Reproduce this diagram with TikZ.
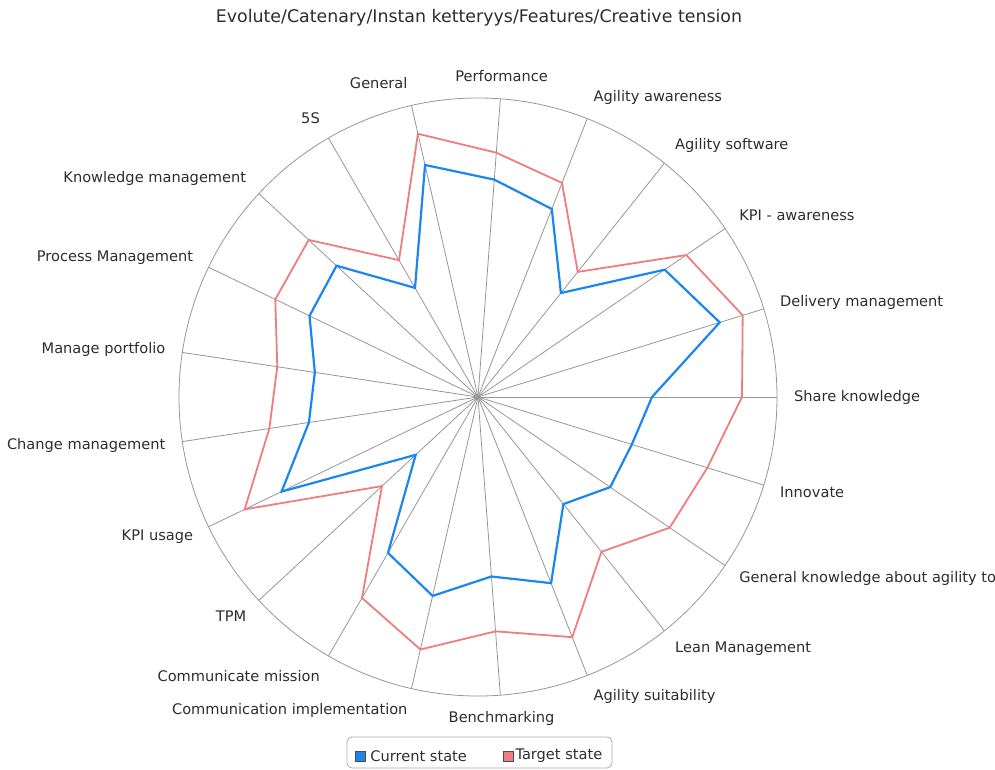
\documentclass[tikz,border=0pt]{standalone}
\usepackage{fontspec}
\setmainfont{DejaVu Sans}
\usetikzlibrary{positioning}
\definecolor{curblue}{RGB}{28,134,238}
\definecolor{tgtred}{RGB}{240,125,125}
\definecolor{gridgray}{RGB}{150,150,150}
\definecolor{txtgray}{RGB}{45,45,45}
\def\radstep{17.142857}
\begin{document}
\begin{tikzpicture}[x=1pt, y=1pt]
    \tikzset{
        spoke/.style={draw=gridgray, line width=0.8pt},
        current/.style={draw=curblue, line width=2.2pt},
        target/.style={draw=tgtred, line width=1.8pt},
        axislabel/.style={
                inner sep=0pt,
                text=txtgray,
                font=\fontsize{14.6}{17}\selectfont,
            },
        key/.style={draw=black!70, line width=0.6pt, minimum size=10pt, inner sep=0pt},
    }
    \useasboundingbox (-478,-372) rectangle (517,397);
    \node[axislabel, font=\fontsize{17.4}{20}\selectfont] (title) at (1,379) {Evolute/Catenary/Instan ketteryys/Features/Creative tension};
    % spokes and outer ring
    \foreach \i in {0,...,20}
        \draw[spoke] (0,0) -- ({\i*\radstep}:299);
    \draw[spoke] (0,0) circle (299pt);
    \foreach \txt [count=\i from 0] in {Share knowledge, Delivery management, KPI - awareness,
        Agility software, Agility awareness, Performance, General, 5S, Knowledge management,
        Process Management, Manage portfolio, Change management, KPI usage, TPM,
        Communicate mission, Communication implementation, Benchmarking, Agility suitability,
        Lean Management, General knowledge about agility to, Innovate} {
        \pgfmathsetmacro\ca{cos(\i*\radstep)}
        \pgfmathsetmacro\sa{sin(\i*\radstep)}
        \ifdim\ca pt>0.15pt \def\anc{west}\else\ifdim\ca pt<-0.15pt \def\anc{east}\else\def\anc{center}\fi\fi
        \node[axislabel, anchor=\anc, yshift={6*\sa}] (ax\i) at ({\i*\radstep}:316) {\txt};
    }
    % target state
    \foreach \r [count=\i from 0] in {264,277,252,160,230,245,270,158,231,225,203,211,259,131,232,259,235,258,198,232,240}
        \coordinate (tgt\i) at ({\i*\radstep}:\r);
    \draw[target] (tgt0) \foreach \i in {1,...,20} {-- (tgt\i)} -- cycle;
    % current state
    \foreach \r [count=\i from 0] in {174,253,226,133,202,218,238,126,193,187,165,171,218,85,180,204,180,200,137,160,161}
        \coordinate (cur\i) at ({\i*\radstep}:\r);
    \draw[current] (cur0) \foreach \i in {1,...,20} {-- (cur\i)} -- cycle;
    % legend
    \draw[draw=gridgray!80, line width=0.8pt, rounded corners=5pt] (-131,-340) rectangle (134,-371);
    \node[key, fill=curblue] (keycur) at (-118,-359) {};
    \node[axislabel, right=5pt of keycur] (txtcur) {Current state};
    \node[key, fill=tgtred] (keytgt) at (30,-359) {};
    \node[axislabel, right=2pt of keytgt] (txttgt) {Target state};
\end{tikzpicture}
\end{document}
